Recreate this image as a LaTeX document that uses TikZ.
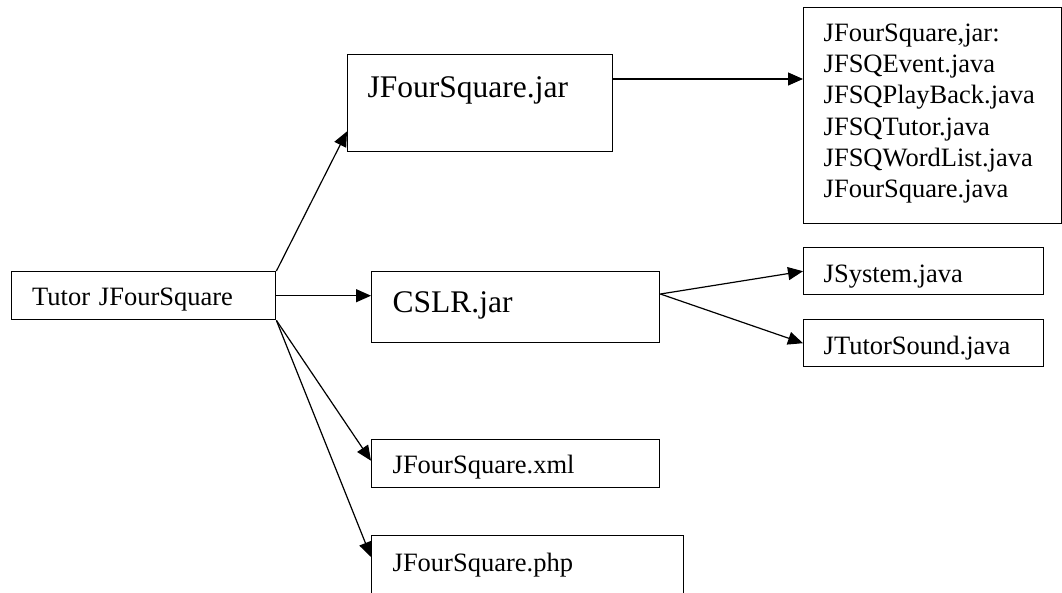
\documentclass[tikz,border=0pt]{standalone}
\usepackage{fontspec}
\setmainfont{Liberation Serif}
\usetikzlibrary{arrows.meta}
\begin{document}
\begin{tikzpicture}[x=1pt, y=-1pt,
    box/.style={draw, line width=1.4pt, anchor=north west, inner ysep=0pt, align=left,
                font=\fontsize{26.5}{31.2}\selectfont},
    big/.style={font=\fontsize{31.5}{36}\selectfont},
    link/.style={line width=1.2pt, -{Triangle[length=15pt,width=13pt]}}]
    \useasboundingbox (0,0) rectangle (1062,592);

    \node[box, inner xsep=20.5pt, text width=223pt, text height=34pt, text depth=14pt] (tutor) at (11,271) {Tutor JFourSquare};
    \node[box, big, inner xsep=20pt, text width=225pt, text height=43pt, text depth=54pt] (jar) at (347,54) {JFourSquare.jar};
    \node[box, inner xsep=20pt, text width=218pt, text height=33.7pt, text depth=182.3pt] (jarlist) at (803,7)
        {JFourSquare,jar:\\ JFSQEvent.java\\ JFSQPlayBack.java\\ JFSQTutor.java\\ JFSQWordList.java\\ JFourSquare.java};
    \node[box, big, inner xsep=21pt, text width=246pt, text height=41pt, text depth=30pt] (cslr) at (371,271) {CSLR.jar};
    \node[box, inner xsep=20pt, text width=200pt, text height=35pt, text depth=12pt] (sys) at (803,247) {JSystem.java};
    \node[box, inner xsep=20pt, text width=200pt, text height=35pt, text depth=12pt] (sound) at (803,319) {JTutorSound.java};
    \node[box, inner xsep=21pt, text width=246pt, text height=34pt, text depth=14pt] (xml) at (371,439) {JFourSquare.xml};
    \node[box, inner xsep=21pt, text width=270pt, text height=35.7pt, text depth=29.3pt] (php) at (371,535) {JFourSquare.php};

    \coordinate (jarout) at ([yshift=-25pt]jar.north east);
    \coordinate (cslrout) at ([yshift=-23pt]cslr.north east);

    \draw[link] (tutor.north east) -- ([yshift=21pt]jar.south west);
    \draw[link] (tutor.east) -- (tutor.east -| cslr.west);
    \draw[link] (tutor.south east) -- ([yshift=3pt]xml.west);
    \draw[link] (tutor.south east) -- ([yshift=-22pt]php.north west);
    \draw[link] (jarout) -- (jarout -| jarlist.west);
    \draw[link] (cslrout) -- (sys.west);
    \draw[link] (cslrout) -- (sound.west);
\end{tikzpicture}
\end{document}
